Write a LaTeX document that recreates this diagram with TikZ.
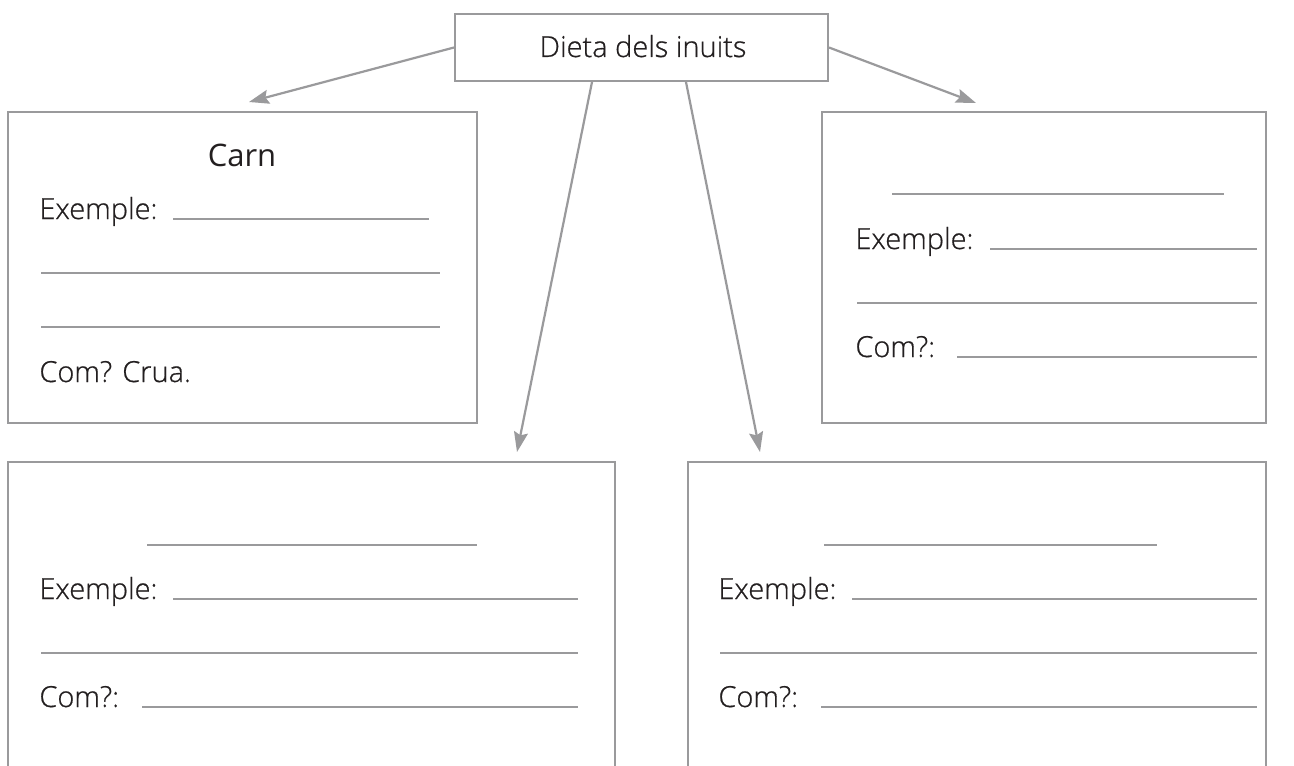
\documentclass[tikz,border=0pt]{standalone}
\usepackage{fontspec}
\setmainfont{Open Sans}[UprightFont={* Light},FakeBold=0.7]
\newfontfamily\carnfont{Open Sans}
\usetikzlibrary{fit,arrows.meta}
\definecolor{linegray}{HTML}{9A9A9C}
\definecolor{txt}{HTML}{231F20}
\tikzset{
  x=0.5pt,y=-0.5pt,
  box/.style={draw=linegray,line width=1pt,inner sep=0pt,rectangle},
  blank/.style={draw=linegray,line width=1pt},
  arr/.style={draw=linegray,line width=1.1pt,-{Stealth[length=10pt,width=7pt,inset=1.5pt]}},
  lbl/.style={text=txt,font=\fontsize{14.5}{17}\selectfont,inner sep=0pt,anchor=base west},
}
\begin{document}
\begin{tikzpicture}
\clip (0,0) rectangle (1294,765);
\fill[white] (0,0) rectangle (1294,765);
% boxes
\node[box,fit={(455,14)(828,81)}] (top) {};
\node[text=txt,font=\fontsize{14.5}{17}\selectfont,inner sep=0pt,anchor=base] (toptxt) at (643,57) {Dieta dels inuits};
\node[box,fit={(8,112)(477,423)}] (carn) {};
\node[box,fit={(822,112)(1266,423)}] (rt) {};
\node[box,fit={(8,462)(615,800)}] (lb) {};
\node[box,fit={(688,462)(1266,800)}] (rb) {};
% arrow tips
\coordinate (t1) at (249,102);
\coordinate (t2) at (976,103);
\coordinate (t3) at (517,452);
\coordinate (t4) at (760,452);
\coordinate (s3) at (592,81);
\coordinate (s4) at (686,81);
\draw[arr] (top.west) -- (t1);
\draw[arr] (top.east) -- (t2);
\draw[arr] (top.south -| s3) -- (t3);
\draw[arr] (top.south -| s4) -- (t4);
% Carn box
\node[text=txt,font=\carnfont\fontsize{15.5}{18}\selectfont,inner sep=0pt,anchor=base] (carnt) at (242,166) {Carn};
\node[lbl] (c1) at (39,219) {Exemple:};
\draw[blank] (173,219) -- (429,219);
\draw[blank] (41,273) -- (440,273);
\draw[blank] (41,327) -- (440,327);
\node[lbl] (c2) at (39,382) {Com? Crua.};
% right top box
\draw[blank] (892,194) -- (1224,194);
\node[lbl] (r1) at (855,249) {Exemple:};
\draw[blank] (990,249) -- (1257,249);
\draw[blank] (857,303) -- (1257,303);
\node[lbl] (r2) at (855,357) {Com?:};
\draw[blank] (957,357) -- (1257,357);
% bottom left box
\draw[blank] (147,545) -- (477,545);
\node[lbl] (l1) at (39,599) {Exemple:};
\draw[blank] (173,599) -- (578,599);
\draw[blank] (41,653) -- (578,653);
\node[lbl] (l2) at (39,707) {Com?:};
\draw[blank] (142,707) -- (578,707);
% bottom right box
\draw[blank] (824,545) -- (1157,545);
\node[lbl] (b1) at (718,599) {Exemple:};
\draw[blank] (852,599) -- (1257,599);
\draw[blank] (720,653) -- (1257,653);
\node[lbl] (b2) at (718,707) {Com?:};
\draw[blank] (821,707) -- (1257,707);
\end{tikzpicture}
\end{document}
